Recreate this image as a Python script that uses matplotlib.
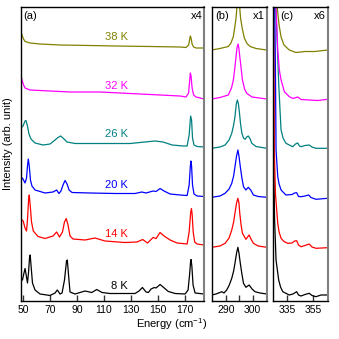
import matplotlib
matplotlib.use("Agg")
import matplotlib.pyplot as plt

plt.rcParams["font.family"] = ["Liberation Sans", "DejaVu Sans"]
plt.rcParams["mathtext.fontset"] = "custom"
plt.rcParams["mathtext.rm"] = "Liberation Sans"
plt.rcParams["mathtext.it"] = "Liberation Sans:italic"

temps = ["8 K", "14 K", "20 K", "26 K", "32 K", "38 K"]
colors = ["black", "#ff0000", "#0000ff", "#008080", "#ff00ff", "#808000"]
label_y = [15, 67, 116, 167, 215, 264]

# panel (a): 50-180 cm-1, scaled x4
a8_x = [48.5, 49.6, 50.7, 51.5, 52.2, 53.3, 54.1, 54.8, 55.3, 55.9, 57.0, 58.9, 62.6, 70.0, 73.7,
        75.4, 77.4, 78.9, 80.7, 82.2, 82.8, 83.7, 84.8, 88.5, 95.9, 100.9, 104.6, 108.5, 114.4,
        132.9, 135.9, 138.4, 141.1, 142.8, 144.8, 147.2, 148.5, 151.5, 153.7, 157.6, 162.6,
        170.0, 172.2, 173.3, 174.1, 174.4, 175.0, 175.9, 177.4, 184.0]
a8_y = [24, 21, 28, 32.5, 27, 18, 29, 43, 46, 36, 18, 11, 7, 5.5, 8,
        11, 7, 8, 21, 40, 41, 26, 9, 7, 10, 8.5, 11.5, 8.5, 7.5,
        7.5, 10, 13.5, 9, 8.5, 12, 13.5, 13, 16.5, 14, 9.5, 7.5,
        7, 11, 26, 40, 41.5, 35, 16, 8, 7]

a14_x = [48.5, 49.2, 50.1, 51.5, 52.6, 53.3, 54.1, 54.6, 55.3, 56.3, 57.6, 61.1, 66.3, 72.2,
         74.9, 77.0, 79.2, 80.7, 82.0, 83.3, 84.8, 87.0, 95.9, 103.3, 110.7, 125.5, 134.4,
         138.6, 142.2, 146.3, 148.5, 151.5, 154.4, 158.9, 164.1, 171.5, 173.0, 174.1, 174.7,
         175.2, 176.0, 177.1, 178.9, 184.0]
a14_y = [79, 81, 80, 73, 70, 81, 101, 106, 96, 79, 70, 64.5, 62.5, 65,
         69, 64, 69, 79, 82.5, 76, 65, 62, 61, 63, 60, 58.5, 59,
         61.5, 58, 63.5, 62.5, 68.5, 65, 61, 58, 57, 69, 88, 92.5,
         87, 69, 59, 57, 56]

a20_x = [48.5, 49.6, 51.5, 52.6, 53.3, 53.9, 54.6, 55.5, 56.6, 58.9, 66.3, 72.2, 74.9, 76.6,
         78.1, 79.6, 81.1, 82.6, 84.1, 86.3, 99.6, 118.1, 132.9, 137.9, 141.1, 146.3, 148.5,
         151.5, 154.4, 158.9, 166.3, 171.5, 173.0, 173.9, 174.3, 174.8, 175.5, 176.6, 178.9, 184.0]
a20_y = [121, 123, 118, 123, 135, 142, 135, 121, 115, 111, 108, 109, 111, 107.5,
         110, 116, 120.5, 117, 111, 108.5, 108, 107.5, 107.5, 109, 108, 110, 109.5,
         112.5, 110, 107, 106, 105.5, 116, 135, 140, 135, 116, 107, 105, 104.5]

a26_x = [48.5, 50.0, 51.5, 52.2, 53.3, 54.4, 55.9, 58.9, 64.8, 70.0, 73.7, 75.9, 77.8, 79.6,
         82.6, 88.5, 107.0, 129.2, 140.4, 147.8, 153.7, 160.4, 168.5, 171.5, 173.0, 174.1,
         174.8, 175.5, 176.6, 178.9, 184.0]
a26_y = [173, 175, 180, 180.5, 175, 167, 162, 158, 156, 157, 161, 163.5, 165, 163,
         159, 157.5, 157.5, 157.5, 159, 160, 159, 156, 155, 155, 166, 185,
         181, 163, 156, 154.5, 154]

a32_x = [48.5, 49.2, 50.4, 51.5, 55.2, 62.6, 84.8, 107.0, 129.2, 151.5, 166.3, 170.7, 172.6,
         173.3, 173.9, 174.4, 175.2, 176.3, 178.1, 184.0]
a32_y = [226, 221, 216, 213, 211, 210.5, 209, 209, 207.5, 206, 205, 204, 208,
         219, 228, 225, 213, 206, 204, 202]

a38_x = [48.5, 49.2, 50.4, 51.5, 55.2, 62.6, 77.4, 99.6, 118.1, 144.1, 166.3, 170.7, 172.6,
         173.3, 173.9, 174.4, 175.2, 176.3, 178.1, 184.0]
a38_y = [270, 266, 262, 259.5, 258, 257, 256, 255.5, 255, 254.5, 254, 253.5, 256,
         261, 265, 263, 257, 254, 253, 253]

# panel (b): 285-305 cm-1, x1
b8_x = [284.7, 286.3, 288.5, 289.3, 290.3, 291.2, 292.2, 292.9, 293.4, 294.0, 294.5, 294.9,
        295.4, 296.0, 296.6, 297.5, 298.7, 299.8, 300.9, 302.8, 305.3]
b8_y = [6, 7, 9.3, 8, 11, 15.5, 22.7, 30, 37.7, 48, 53.7, 48,
        37.7, 27, 17.7, 13.7, 16, 12, 9.3, 8, 7]

b14_x = [284.7, 287.8, 289.7, 291.2, 292.2, 292.9, 293.4, 294.0, 294.5, 294.9, 295.2, 295.7,
         296.2, 297.5, 298.7, 299.4, 300.3, 302.1, 305.3]
b14_y = [53.7, 55, 57.7, 63, 71, 79, 87.7, 98, 102.7, 98, 87.7, 76,
         67.7, 61.7, 66, 62, 57.7, 55, 53.7]

b20_x = [284.7, 287.8, 289.7, 291.2, 292.2, 292.9, 293.4, 294.0, 294.5, 294.9, 295.4, 296.0,
         296.6, 297.5, 298.4, 299.3, 300.3, 302.1, 305.3]
b20_y = [103.7, 105, 107.7, 112, 117.7, 125, 134.3, 145, 151, 145, 134.3, 123,
         114.3, 111, 113.7, 111, 106, 104.5, 103.7]

b26_x = [284.7, 287.8, 289.7, 291.2, 292.2, 292.9, 293.4, 293.9, 294.3, 294.7, 295.1, 295.5,
         296.0, 296.6, 297.2, 297.8, 298.4, 299.1, 299.7, 301.3, 305.3]
b26_y = [152.7, 154, 156, 161, 167.7, 176, 184.3, 197, 201, 197, 187.7, 177,
         167.7, 163, 161.7, 164, 165, 162, 157.7, 154.5, 152.7]

b32_x = [284.7, 287.8, 290.9, 292.1, 292.8, 293.4, 293.8, 294.2, 294.6, 294.9, 295.2, 295.7,
         296.2, 297.0, 297.8, 299.8, 305.3]
b32_y = [202, 203.5, 206, 213, 221, 234, 244.5, 254, 257, 252, 244.5, 233,
         221, 212, 207.7, 204, 202]

b38_x = [284.7, 287.8, 290.9, 291.9, 292.8, 293.4, 293.8, 294.2, 294.7, 295.1, 295.5, 296.1,
         296.9, 297.9, 299.1, 301.3, 305.3]
b38_y = [251, 252.5, 254.5, 258, 264.5, 275, 283, 296, 306, 296, 283, 273,
         263, 257.5, 254.5, 252.5, 251]

# panel (c): 325-366 cm-1, x6
c8_x = [324.6, 324.8, 325.6, 326.7, 328.7, 330.1, 331.8, 336.7, 339.5, 342.3, 343.7, 345.6,
        348.6, 351.8, 353.9, 356.9, 360.7, 365.7]
c8_y = [311, 151, 81, 41, 21, 14, 9.3, 6, 7, 9.3, 6, 5,
        6.5, 7.7, 5.5, 4.3, 6, 6]

c14_x = [325.0, 325.4, 326.3, 328.0, 329.0, 330.5, 332.7, 335.5, 338.8, 340.7, 342.3, 343.7,
         345.6, 348.6, 351.8, 353.9, 356.9, 365.7]
c14_y = [311, 151, 106, 77.7, 69, 62.7, 59.5, 57.7, 58, 60, 60.3, 56,
         54.3, 55.5, 57, 54, 52.7, 53.3]

c20_x = [325.6, 326.3, 326.7, 328.0, 329.0, 330.5, 334.2, 338.8, 340.7, 342.3, 343.7, 345.6,
         348.6, 351.4, 353.1, 356.9, 365.7]
c20_y = [311, 221, 151, 124.3, 117, 111, 106, 106.5, 108, 108.3, 104.5, 104.3,
         105, 106, 103.5, 101.7, 102.7]

c26_x = [325.9, 327.5, 328.7, 329.7, 330.5, 332.0, 334.2, 339.3, 341.4, 343.1, 344.4, 345.6,
         348.6, 351.8, 353.9, 356.9, 365.7]
c26_y = [311, 261, 218, 191, 171, 163, 157.7, 154.3, 157, 158, 155, 154.3,
         155.5, 156, 154, 152.7, 152.7]

c32_x = [326.3, 327.1, 328.0, 329.2, 330.5, 333.0, 336.7, 339.5, 343.1, 345.6, 351.8, 358.4, 365.7]
c32_y = [311, 281, 251, 231, 221, 209.3, 204.3, 202.5, 204, 201.5, 201, 200.5, 201.7]

c38_x = [327.1, 327.8, 329.0, 330.5, 332.7, 336.7, 341.8, 348.6, 356.1, 365.7]
c38_y = [311, 291, 276, 264, 256, 251, 248.5, 249.5, 249.5, 251]

panel_a = [(a8_x, a8_y), (a14_x, a14_y), (a20_x, a20_y), (a26_x, a26_y), (a32_x, a32_y), (a38_x, a38_y)]
panel_b = [(b8_x, b8_y), (b14_x, b14_y), (b20_x, b20_y), (b26_x, b26_y), (b32_x, b32_y), (b38_x, b38_y)]
panel_c = [(c8_x, c8_y), (c14_x, c14_y), (c20_x, c20_y), (c26_x, c26_y), (c32_x, c32_y), (c38_x, c38_y)]

fig = plt.figure(figsize=(3.39, 3.39), dpi=100)
W = 339.0
bottom = 38 / W
height = 294 / W
ax_a = fig.add_axes([21 / W, bottom, 183 / W, height])
ax_b = fig.add_axes([212 / W, bottom, 55 / W, height])
ax_c = fig.add_axes([273 / W, bottom, 55 / W, height])

setup = [
    (ax_a, panel_a, (48.5, 184), [50, 70, 90, 110, 130, 150, 170], None, "(a)", "x4"),
    (ax_b, panel_b, (284.8, 305.4), [290, 295, 300], ["290", "", "300"], "(b)", "x1"),
    (ax_c, panel_c, (324.4, 366), [335, 355], None, "(c)", "x6"),
]

for ax, curves, xlim, ticks, ticklabels, tag, scale in setup:
    for (x, y), c in zip(curves, colors):
        ax.plot(x, y, color=c, lw=0.9)
    ax.set_xlim(*xlim)
    ax.set_ylim(0, 294)
    ax.set_yticks([])
    ax.set_xticks(ticks)
    if ticklabels is not None:
        ax.set_xticklabels(ticklabels)
    ax.tick_params(axis="x", direction="in", length=4, width=1, color="#333333",
                   labelsize=7.5, pad=3)
    for s in ["left", "top", "bottom"]:
        ax.spines[s].set_linewidth(1)
    ax.spines["right"].set_color("#7f7f7f")
    ax.spines["right"].set_linewidth(1.5)
    ax.text(0.015 if tag == "(a)" else (0.055 if tag == "(b)" else 0.127), 0.969, tag,
            transform=ax.transAxes, ha="left", va="center", fontsize=8)
    ax.text(0.99 if tag == "(a)" else 0.96, 0.969, scale,
            transform=ax.transAxes, ha="right", va="center", fontsize=8)

for t, c, yy in zip(temps, colors, label_y):
    ax_a.text(127.8, yy, t, color=c, ha="right", va="center", fontsize=8)

fig.text(171.5 / W, 1 - 324 / W, "Energy (cm$^{-1}$)", ha="center", va="center", fontsize=8)
fig.text(8 / W, 1 - 143.5 / W, "Intensity (arb. unit)", ha="center", va="center",
         rotation=90, fontsize=8)

fig.savefig("out.png", dpi=100)
